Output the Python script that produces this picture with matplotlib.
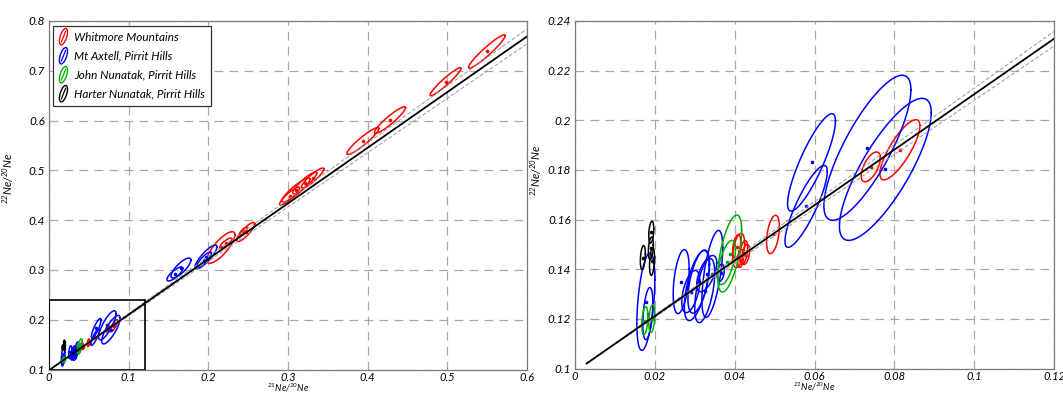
import numpy as np
import matplotlib
matplotlib.use("Agg")
import matplotlib.pyplot as plt
from matplotlib.patches import Ellipse, Rectangle
from matplotlib.lines import Line2D
from matplotlib.legend_handler import HandlerBase
from matplotlib.ticker import FuncFormatter

plt.rcParams['font.family'] = ['Lato', 'DejaVu Sans']
plt.rcParams['font.style'] = 'italic'
plt.rcParams['mathtext.fontset'] = 'custom'
plt.rcParams['mathtext.it'] = 'Lato:italic'
plt.rcParams['mathtext.rm'] = 'Lato:italic'
plt.rcParams['mathtext.default'] = 'it'

# ---- neon three-isotope data: centre (x, y), half extents (ex, ey), correlation rho ----
# x = 21Ne/20Ne, y = 22Ne/20Ne
whitmore_x = [0.0496, 0.0410, 0.04225, 0.04275, 0.0405, 0.0415, 0.0741, 0.0814,
              0.2158, 0.2220, 0.2470, 0.2440, 0.3100, 0.3210, 0.3310, 0.3020,
              0.3940, 0.4280, 0.4977, 0.5496]
whitmore_y = [0.1540, 0.1475, 0.1467, 0.1459, 0.1491, 0.1443, 0.1812, 0.1881,
              0.3452, 0.3540, 0.3763, 0.3780, 0.4606, 0.4747, 0.4847, 0.4486,
              0.5590, 0.6010, 0.6780, 0.7388]
whitmore_ex = [0.0016, 0.0015, 0.0010, 0.0010, 0.0010, 0.00075, 0.0024, 0.0050,
               0.0176, 0.0075, 0.0113, 0.0050, 0.0176, 0.0150, 0.0140, 0.0125,
               0.0200, 0.0195, 0.0194, 0.0230]
whitmore_ey = [0.0077, 0.0069, 0.0048, 0.0040, 0.0048, 0.0036, 0.0060, 0.0121,
               0.0317, 0.0100, 0.0190, 0.0080, 0.0240, 0.0220, 0.0200, 0.0180,
               0.0270, 0.0267, 0.0281, 0.0335]
whitmore_rho = [0.4, 0.4, 0.4, 0.4, 0.4, 0.3, 0.6, 0.8,
                0.8, 0.8, 0.85, 0.8, 0.9, 0.9, 0.9, 0.9,
                0.93, 0.93, 0.95, 0.95]

axtell_x = [0.01775, 0.01825, 0.0266, 0.0290, 0.0305, 0.0325, 0.0330, 0.0344, 0.0365, 0.0310,
            0.05925, 0.0579, 0.07325, 0.07775,
            0.1970, 0.1945, 0.1656, 0.1580]
axtell_y = [0.1269, 0.1221, 0.1350, 0.1310, 0.1334, 0.1314, 0.1382, 0.1381, 0.1386, 0.1350,
            0.1830, 0.1653, 0.1889, 0.1802,
            0.3261, 0.3200, 0.3040, 0.2920]
axtell_ex = [0.00225, 0.00125, 0.0020, 0.00225, 0.0031, 0.0025, 0.0025, 0.0026, 0.0009, 0.0027,
             0.0060, 0.0053, 0.0109, 0.0115,
             0.0138, 0.0094, 0.0125, 0.0100]
axtell_ey = [0.0196, 0.0105, 0.0129, 0.0085, 0.0141, 0.0129, 0.0073, 0.0175, 0.0034, 0.0127,
             0.0196, 0.0165, 0.0292, 0.0286,
             0.0240, 0.0160, 0.0200, 0.0140]
axtell_rho = [0.45, 0.4, 0.4, 0.5, 0.6, 0.55, 0.6, 0.6, 0.3, 0.55,
              0.85, 0.85, 0.8, 0.8,
              0.85, 0.85, 0.8, 0.8]

john_x = [0.0175, 0.01925, 0.03875, 0.0380]
john_y = [0.1193, 0.1201, 0.1463, 0.1427]
john_ex = [0.00075, 0.00075, 0.0030, 0.0022]
john_ey = [0.0056, 0.0056, 0.0155, 0.0089]
john_rho = [0.3, 0.3, 0.6, 0.6]

harter_x = [0.0170, 0.0191, 0.0190, 0.0193]
harter_y = [0.1447, 0.1549, 0.1484, 0.1431]
harter_ex = [0.000625, 0.000625, 0.000625, 0.000625]
harter_ey = [0.0048, 0.0044, 0.0045, 0.0056]
harter_rho = [0.3, 0.3, 0.3, 0.3]

group_names = ['Whitmore Mountains', 'Mt Axtell, Pirrit Hills',
               'John Nunatak, Pirrit Hills', 'Harter Nunatak, Pirrit Hills']
group_colors = ['#ff0000', '#0000ff', '#00b000', '#000000']

# spallation line through the atmospheric composition
air_x, air_y = 0.0029, 0.102
spall_slope, spall_slope_err = 1.117, 0.025

left_xticks = [0, 0.1, 0.2, 0.3, 0.4, 0.5, 0.6]
left_yticks = [0.1, 0.2, 0.3, 0.4, 0.5, 0.6, 0.7, 0.8]
right_xticks = [0, 0.02, 0.04, 0.06, 0.08, 0.1, 0.12]
right_yticks = [0.1, 0.12, 0.14, 0.16, 0.18, 0.2, 0.22, 0.24]

groups = [
    (whitmore_x, whitmore_y, whitmore_ex, whitmore_ey, whitmore_rho),
    (axtell_x, axtell_y, axtell_ex, axtell_ey, axtell_rho),
    (john_x, john_y, john_ex, john_ey, john_rho),
    (harter_x, harter_y, harter_ex, harter_ey, harter_rho),
]


def error_ellipse(cx, cy, ex, ey, rho, n=120):
    t = np.linspace(0, 2 * np.pi, n)
    x = cx + ex * np.cos(t)
    y = cy + ey * (rho * np.cos(t) + np.sqrt(1 - rho ** 2) * np.sin(t))
    return x, y


def fmt(v, pos):
    return '0' if abs(v) < 1e-12 else ('%g' % v)


def draw_panel(ax, xmax):
    for (gx, gy, gex, gey, grho), col in zip(groups, group_colors):
        for cx, cy, ex, ey, r in zip(gx, gy, gex, gey, grho):
            x, y = error_ellipse(cx, cy, ex, ey, r)
            ax.plot(x, y, color=col, lw=1.1, zorder=3)
        ax.plot(gx, gy, ls='none', marker='o', ms=1.6, color=col, zorder=3)
    xs = np.array([air_x, xmax])
    for s, st, c, lw in [(spall_slope + spall_slope_err, (0, (4, 2)), '#999999', 0.7),
                         (spall_slope - spall_slope_err, (0, (4, 2)), '#999999', 0.7),
                         (spall_slope, '-', 'black', 1.3)]:
        ax.plot(xs, air_y + s * (xs - air_x), ls=st, color=c, lw=lw, zorder=4)
    ax.grid(True, ls=(0, (7, 5)), color='#a8a8a8', lw=0.9)
    ax.set_axisbelow(True)
    for sp in ax.spines.values():
        sp.set_color('#7a7a7a')
        sp.set_linewidth(0.9)
    ax.tick_params(length=0, labelsize=8.5, pad=3)
    ax.tick_params(axis='x', labelsize=8, pad=2)
    ax.xaxis.set_major_formatter(FuncFormatter(fmt))
    ax.yaxis.set_major_formatter(FuncFormatter(fmt))
    for lab in ax.get_xticklabels() + ax.get_yticklabels():
        lab.set_fontstyle('italic')


class EllipseHandler(HandlerBase):
    def create_artists(self, legend, orig_handle, xdescent, ydescent,
                       width, height, fontsize, trans):
        col = orig_handle.get_color()
        cx = width / 2 - xdescent
        cy = height / 2 - ydescent
        e = Ellipse((cx, cy), width=0.55 * fontsize, height=1.45 * fontsize,
                    angle=-18, fill=False, edgecolor=col, lw=1.0, transform=trans)
        ln = Line2D([cx - 0.18 * fontsize, cx + 0.18 * fontsize],
                    [cy - 0.45 * fontsize, cy + 0.45 * fontsize],
                    color=col, lw=0.9, transform=trans)
        return [e, ln]


fig = plt.figure(figsize=(10.63, 3.94), dpi=100)
axL = fig.add_axes([49 / 1063, 24.4 / 394, 478 / 1063, 348.6 / 394])
axR = fig.add_axes([575 / 1063, 25.5 / 394, 479 / 1063, 347.6 / 394])

draw_panel(axL, 0.6)
axL.set_xlim(0, 0.6)
axL.set_ylim(0.1, 0.8)
axL.set_xticks(left_xticks)
axL.set_yticks(left_yticks)
axL.add_patch(Rectangle((0, 0.1), 0.12, 0.14, fill=False, edgecolor='black', lw=1.2, zorder=5))

draw_panel(axR, 0.12)
axR.set_xlim(0, 0.12)
axR.set_ylim(0.1, 0.24)
axR.set_xticks(right_xticks)
axR.set_yticks(right_yticks)

for ax, lx, ly in [(axL, -0.068, 0.55), (axR, -0.064, 0.57)]:
    ax.set_xlabel(r'$^{21}Ne/^{20}Ne$', fontsize=6.5, va='center')
    ax.set_ylabel(r'$^{22}Ne/^{20}Ne$', fontsize=8)
    ax.xaxis.set_label_coords(0.5, -0.052)
    ax.yaxis.set_label_coords(lx, ly)

proxies = [Line2D([], [], color=c) for c in group_colors]
leg = axL.legend(proxies, group_names, loc='upper left', bbox_to_anchor=(0.008, 0.987),
                 borderaxespad=0, fontsize=8.5, handler_map={Line2D: EllipseHandler()},
                 handlelength=0.8, handleheight=1.0, handletextpad=0.5,
                 labelspacing=0.65, borderpad=0.5, fancybox=False, framealpha=1)
leg.get_frame().set_edgecolor('#333333')
leg.get_frame().set_linewidth(0.9)
for t in leg.get_texts():
    t.set_fontstyle('italic')

fig.savefig('out.png', dpi=100)
